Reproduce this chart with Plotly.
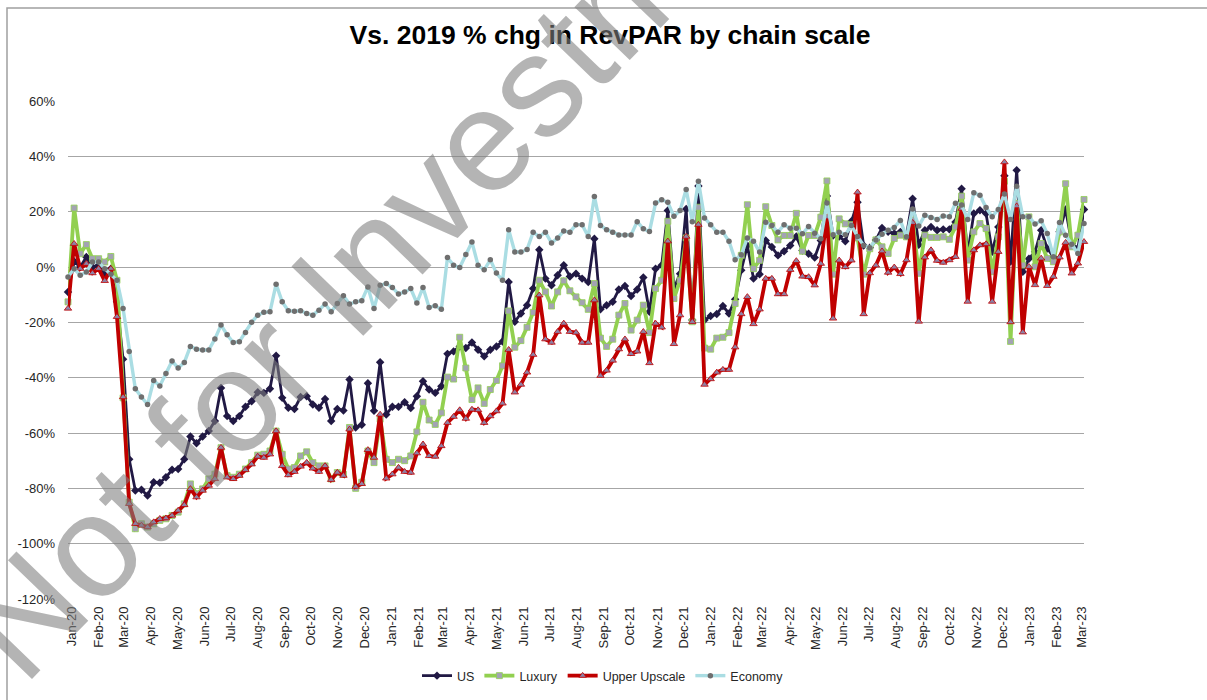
import pandas as pd
import plotly.graph_objects as go

# Weekly periods (week ending Saturday), 167 weeks
week_start = "2019-12-28"
n_weeks = 167
weeks = pd.date_range(start=week_start, periods=n_weeks, freq="W-SAT")

us = [
    -9, 2, 0, 3.6, 0, 0.6, -2.4, -0.6, -12.6, -33.3,
    -69.5, -80.8, -80.5, -82.6, -77.8, -78, -76, -73.3, -73, -69.5,
    -61.3, -63.7, -61.3, -59.3, -55.7, -43.7, -53.9, -55.7, -53.9, -50.5,
    -48.5, -45.3, -45.5, -44, -32.1, -47.3, -50.9, -51.3, -47, -46.7,
    -49.7, -50.9, -47.7, -55.7, -51.3, -51.9, -40.7, -58, -57, -42,
    -52, -34.4, -53.3, -50.5, -50.5, -48.9, -51, -46.7, -41.3, -44.3,
    -45.5, -43.1, -31.4, -30.5, -28.7, -29.3, -27.3, -29.9, -32.3, -29.9,
    -28.7, -26.9, -5.4, -19.8, -16.8, -13.8, -7.8, 6.2, -4.2, -6.6,
    -3, 0.6, -3.4, -2.4, -4.2, -5.4, 10.2, -15.3, -13.8, -12.6,
    -8.1, -6.9, -10.5, -8.1, -3.8, -16.2, -0.6, 0.6, 20.4, -7.8,
    -2.4, 21, -19.2, 29.3, -19.2, -17.7, -17, -14.1, -16.8, -11.7,
    -1.2, 7.8, -4.2, -2.6, 9.6, 7.2, 4.2, 5.7, 7.8, 11,
    6, 4.8, 3.4, 9.6, 25.7, 11.4, 11, 9.3, 16.5, 23.4,
    7.8, 7, 9.8, 14.1, 12.7, 12.1, 12.7, 11.5, 24.7, 8,
    13.3, 14.5, 13.3, 13.6, 13.6, 16.3, 28.3, 5, 19.3, 20.5,
    19.3, 5.5, 14.5, 33, 2, 35, -1.7, 3, 5.5, 13.3,
    6.7, 3.7, 12.7, 20.8, 8.5, 6.7, 20.8,
]

luxury = [
    -12.6, 21.3, 4.8, 8.1, 3, 3, 1.8, 3.8, -4.8, -47.3,
    -85, -94.6, -92.8, -94, -92.8, -91.6, -91, -89.8, -88.6, -85.6,
    -78.4, -82, -80.2, -76.6, -74.9, -65.3, -75.4, -76, -74.9, -73,
    -70.7, -68, -67.7, -66.5, -59.3, -67.7, -73, -72.5, -68.3, -66.8,
    -70.7, -71.9, -71.9, -76.6, -74.3, -74.9, -58, -80, -77.8, -66.5,
    -70.7, -55, -69.5, -70.7, -69.5, -70, -68.3, -59.6, -48.9, -55.3,
    -56.9, -52.7, -39.8, -40.5, -25.4, -36.5, -47.9, -43.7, -49.3, -44.3,
    -41, -35.7, -15.9, -29, -26.6, -21.8, -16.4, -4.8, -9, -14.1,
    -9, -5, -8.6, -10.8, -12.9, -15.3, -6, -25.7, -28.7, -26.1,
    -17.4, -13.2, -22.8, -19.2, -13.8, -23.7, -7.8, -4.8, 16.5, -11.4,
    -4.8, 10.5, -19.8, 21.6, -29.3, -29.7, -25.7, -25.4, -23.7, -13.2,
    4.2, 22.5, -0.6, 2.4, 21.8, 15, 9.8, 11.4, 11.4, 19.4,
    5.7, 11.4, 11.4, 18, 31.1, -2.6, 17.4, 15.6, 15.3, 10.5,
    -2.6, 6.6, 9.8, 7.3, 4.9, 10.3, 11.5, 10.9, 17, -2.3,
    11.5, 10.7, 10.7, 10.9, 10, 14.5, 25.6, 2.5, 12.7, 15.7,
    13.9, -1.7, 10.9, 31, -26.9, 23, 0.7, 18.1, 0.1, 8.5,
    3.1, 1.9, 12.7, 30.1, 7.3, 11.5, 24.4,
]

upper_upscale = [
    -15, 8.4, -0.6, 1.2, -2.2, -0.6, -5, -0.6, -18, -47,
    -85.6, -92.8, -93.4, -94, -92.2, -91, -90.8, -89.8, -88, -86,
    -80.2, -83.2, -80.8, -79, -76.6, -65.3, -76, -76.6, -75.4, -73.3,
    -71.3, -68.5, -68.9, -67.7, -59.3, -71.9, -75.2, -74, -72.1, -70.7,
    -72.8, -74, -71.9, -76.9, -74.3, -75.4, -58.7, -79.4, -78.4, -66.1,
    -68.9, -53.3, -76.4, -74.9, -72.5, -74, -74.3, -67.3, -64.1, -68.3,
    -68.5, -64.7, -56.3, -54.1, -51.7, -54.8, -51.5, -51.7, -56.3, -53.9,
    -52.1, -49.3, -29.9, -45.3, -42.5, -38.1, -31.7, -10.2, -26.1, -27.3,
    -23.4, -20.4, -23.4, -23.7, -27.3, -27.3, -12, -39.3, -37.4, -33.8,
    -29.7, -26.1, -31.4, -30.5, -23.4, -34.7, -20.4, -21.8, 9.3, -27.8,
    -17.4, 11, -19.8, 15.3, -42.5, -40.5, -38.1, -37.1, -37.1, -29,
    -17, -10.8, -20.6, -15.3, -4.2, -4.2, -9.8, -9.8, -1, 2.2,
    -3.4, -3.6, -6.6, 1.2, 18, -18.6, 2.4, 0, 2.4, 27,
    -17, -2.2, 0.6, 5.7, -2, -0.1, -2.5, 2.5, 16, -19.7,
    3.5, 6.1, 2.3, 1.6, 2.5, 3.7, 21.1, -12.5, 6.1, 7.9,
    8.3, -12.5, 5.5, 37.9, -19.9, 22, -23.6, 0.1, -6.5, 3.1,
    -6.8, -3.5, 3.5, 8.8, -2.3, 1.3, 9.1,
]

economy = [
    -3.6, -0.6, -3, -1.8, 1.8, 1.8, -0.6, -2.6, -4.8, -15,
    -30.5, -44, -47, -49.7, -41, -43, -38.5, -34, -36.5, -34.5,
    -28.7, -29.7, -30, -30, -26, -21, -24.5, -27.3, -27, -23.7,
    -20, -17.4, -16.4, -16.2, -6.2, -12.6, -15.8, -16, -15.8, -16.8,
    -17.4, -15.6, -13.4, -16.2, -13.2, -10.4, -13.4, -12.6, -12.2, -7.2,
    -15, -6.6, -6, -7.4, -9.8, -9, -7.8, -13, -7.4, -14.6,
    -14, -15.3, 3.4, 0.6, -0.2, 4.5, 9, 0.6, -1, 2.6,
    -2.2, -4.8, 13.5, 5.4, 5.4, 6.3, 12.6, 11, 12.6, 8.7,
    10.5, 13, 12.6, 15.3, 15.3, 11, 25.5, 15, 13.5, 12.6,
    11.6, 11.6, 11.6, 16.4, 13.8, 12.8, 23.1, 24.3, 23.4, 18.3,
    20.4, 28, 16.4, 31, 17.7, 15.3, 12.6, 12.6, 9.3, 2.6,
    4.4, 10.5, 9.3, 5.4, 16.2, 15, 12.6, 15.3, 14, 14,
    12, 14.6, 12.2, 10.2, 23.1, 11.7, 12.6, 11.7, 15, 11,
    7.8, 7, 9.8, 11.8, 13.3, 14.3, 16.8, 10.9, 21, 14.8,
    18.7, 17.9, 17.2, 18.4, 18.2, 23, 22.4, 17.2, 26.8, 25.9,
    21.5, 18.2, 20.8, 26.4, 17.2, 29.2, 18.2, 18.2, 15.5, 16.7,
    12.1, 3.7, 16.1, 11.5, 8.2, 4.9, 15.7,
]

series_names = ["US", "Luxury", "Upper Upscale", "Economy"]
y_ticks = [60, 40, 20, 0, -20, -40, -60, -80, -100, -120]
title_text = "Vs. 2019 % chg in RevPAR by chain scale"
watermark_text = "Not for Investment"

W, H = 1207, 700
L, R, T, B = 68, 1084, 101, 599
pw, ph = R - L, B - T


def px_to_paper(x, y):
    return (x - L) / pw, (B - y) / ph


styles = {
    "US": dict(line=dict(color="#211944", width=2.8),
               marker=dict(symbol="diamond", size=6.5, color="#211944")),
    "Luxury": dict(line=dict(color="#92D050", width=3.8),
                   marker=dict(symbol="square", size=6, color="#A3A3B3",
                               line=dict(color="#92D050", width=0.8))),
    "Upper Upscale": dict(line=dict(color="#C00000", width=3.8),
                          marker=dict(symbol="triangle-up", size=6.5, color="#8E82A6",
                                      line=dict(color="#C00000", width=0.8))),
    "Economy": dict(line=dict(color="#AADDE3", width=3.4),
                    marker=dict(symbol="circle", size=5.5, color="#6F6F6F")),
}

data = {"US": us, "Luxury": luxury, "Upper Upscale": upper_upscale, "Economy": economy}

fig = go.Figure()
for name in series_names:
    fig.add_trace(go.Scatter(
        x=weeks, y=data[name], name=name, mode="lines+markers",
        cliponaxis=False, **styles[name]))

font_main = "Liberation Sans, Arial, sans-serif"

fig.update_layout(
    width=W, height=H,
    margin=dict(l=L, r=W - R, t=T, b=H - B, autoexpand=False),
    paper_bgcolor="white", plot_bgcolor="white",
    font=dict(family=font_main, size=13, color="#404040"),
    showlegend=True,
    legend=dict(orientation="h", x=(603 - L) / pw, xanchor="center",
                y=(B - 676) / ph, yanchor="middle",
                font=dict(family=font_main, size=12.5, color="#262626"),
                itemwidth=30, tracegroupgap=0, bgcolor="rgba(0,0,0,0)"),
    title=dict(text="<b>" + title_text + "</b>", x=610 / W, xref="container",
               xanchor="center", y=1 - 35 / H, yref="container", yanchor="middle",
               font=dict(family=font_main, size=26.5, color="black")),
)

fig.update_xaxes(
    type="date",
    range=[weeks[0], weeks[-1]],
    tick0="2020-01-01", dtick="M1", tickformat="%b-%y",
    tickangle=-90, showgrid=False, zeroline=False, showline=False,
    ticks="", tickfont=dict(family=font_main, size=13, color="#262626"),
    ticklabelstandoff=4,
)

fig.update_yaxes(
    range=[-120, 60], tickvals=y_ticks,
    ticktext=[f"{v}%" for v in y_ticks],
    showgrid=True, gridcolor="#A6A6A6", gridwidth=1.3,
    zeroline=False, showline=False, ticks="",
    tickfont=dict(family=font_main, size=13, color="#262626"),
    ticklabelstandoff=12,
)

# Outer chart border (extends past the right and bottom edges)
x0, y0 = px_to_paper(7, 8)
x1, y1 = px_to_paper(1230, 730)
fig.add_shape(type="rect", xref="paper", yref="paper", x0=x0, y0=y1, x1=x1, y1=y0,
              line=dict(color="#A0A0A0", width=1.5), fillcolor="rgba(0,0,0,0)",
              layer="below")

# Watermark
wx, wy = px_to_paper(399, 227)
fig.add_annotation(
    text=watermark_text, xref="paper", yref="paper", x=wx, y=wy,
    xanchor="center", yanchor="middle", showarrow=False, textangle=-46,
    font=dict(family=font_main, size=145, color="rgba(128,128,128,0.59)"),
)

fig.write_html(
    "out.html",
    config={"displayModeBar": False},
    post_script="document.body.style.margin='0';document.body.style.overflow='hidden';",
)
